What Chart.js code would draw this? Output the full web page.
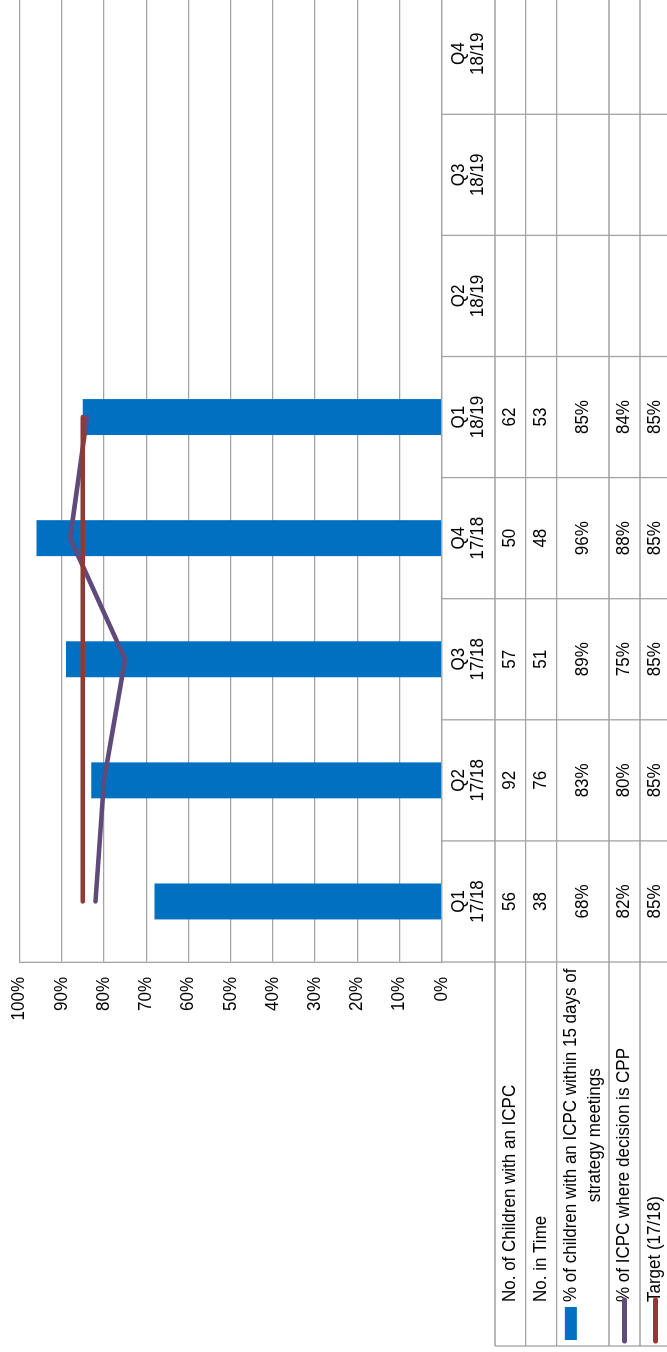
<!DOCTYPE html>
<html><head><meta charset="utf-8">
<script src="https://cdn.jsdelivr.net/npm/chart.js@4.4.1/dist/chart.umd.min.js"></script>
<style>
html,body{margin:0;padding:0;background:#fff;overflow:hidden;width:667px;height:1352px;}
#wrap{position:absolute;left:0;top:0;width:1370px;height:680px;transform-origin:0 0;transform:translate(0px,1352px) rotate(-90deg);}
canvas{display:block;}
</style></head><body>
<div id="wrap"><canvas id="c" width="1370" height="680"></canvas></div>
<script>
// ---- data ----
const categories = [['Q1','17/18'],['Q2','17/18'],['Q3','17/18'],['Q4','17/18'],['Q1','18/19'],['Q2','18/19'],['Q3','18/19'],['Q4','18/19']];
const noChildren = [56, 92, 57, 50, 62, null, null, null];
const noInTime   = [38, 76, 51, 48, 53, null, null, null];
const pctInTime  = [68, 83, 89, 96, 85, null, null, null];
const pctCPP     = [82, 80, 75, 88, 84, null, null, null];
const target     = [85, 85, 85, 85, 85, null, null, null];
const seriesNames = ['No. of Children with an ICPC', 'No. in Time', '% of children with an ICPC within 15 days of', 'strategy meetings', '% of ICPC where decision is CPP', 'Target (17/18)'];

// ---- style ----
const FONT = "'Liberation Sans', Arial, sans-serif";
const FS = 18, SX = 0.944;
const GRID = '#a3a3a3';
const BLUE = '#0070C0', PURPLE = '#604A7B', RED = '#953735';
const ROW_Y = [441.7, 495, 525.7, 556.7, 609, 640, 671];
const LABEL_LEFT = 6, LABEL_TEXT_X = 50;

const pctTxt = v => v == null ? '' : v + '%';
const numTxt = v => v == null ? '' : String(v);

function txt(ctx, s, x, y, align) {
  ctx.save();
  ctx.translate(x, y);
  ctx.scale(SX, 1);
  ctx.textAlign = align;
  ctx.fillText(s, 0, 0);
  ctx.restore();
}

const tablePlugin = {
  id: 'dataTable',
  afterDraw(chart) {
    const {ctx, chartArea: a, scales: {x, y}} = chart;
    const n = categories.length;
    const cw = (a.right - a.left) / n;
    ctx.save();
    ctx.strokeStyle = GRID; ctx.lineWidth = 1.3;
    ctx.beginPath();
    ctx.moveTo(a.left, ROW_Y[0]); ctx.lineTo(a.right + 30, ROW_Y[0]);
    for (let i = 1; i < ROW_Y.length; i++) { ctx.moveTo(LABEL_LEFT, ROW_Y[i]); ctx.lineTo(a.right + 30, ROW_Y[i]); }
    for (let j = 0; j <= n; j++) { const xx = a.left + j * cw; ctx.moveTo(xx, ROW_Y[0]); ctx.lineTo(xx, ROW_Y[ROW_Y.length - 1]); }
    ctx.moveTo(LABEL_LEFT, ROW_Y[1]); ctx.lineTo(LABEL_LEFT, ROW_Y[ROW_Y.length - 1]);
    ctx.stroke();

    ctx.fillStyle = '#000';
    ctx.font = FS + 'px ' + FONT;
    ctx.textBaseline = 'middle';
    // y tick labels
    y.ticks.forEach(t => txt(ctx, t.value + '%', a.left - 15, y.getPixelForValue(t.value), 'right'));
    const mid = i => (ROW_Y[i] + ROW_Y[i + 1]) / 2;
    for (let j = 0; j < n; j++) {
      const cx = x.getPixelForValue(j);
      txt(ctx, categories[j][0], cx, mid(0) - 9.5, 'center');
      txt(ctx, categories[j][1], cx, mid(0) + 9.5, 'center');
      txt(ctx, numTxt(noChildren[j]), cx, mid(1), 'center');
      txt(ctx, numTxt(noInTime[j]), cx, mid(2), 'center');
      txt(ctx, pctTxt(pctInTime[j]), cx, mid(3), 'center');
      txt(ctx, pctTxt(pctCPP[j]), cx, mid(4), 'center');
      txt(ctx, pctTxt(target[j]), cx, mid(5), 'center');
    }
    txt(ctx, seriesNames[0], LABEL_TEXT_X, mid(1), 'left');
    txt(ctx, seriesNames[1], LABEL_TEXT_X, mid(2), 'left');
    const w1 = ctx.measureText(seriesNames[2]).width * SX;
    txt(ctx, seriesNames[2], LABEL_TEXT_X, mid(3) - 12, 'left');
    txt(ctx, seriesNames[3], LABEL_TEXT_X + w1 / 2, mid(3) + 12, 'center');
    txt(ctx, seriesNames[4], LABEL_TEXT_X, mid(4), 'left');
    txt(ctx, seriesNames[5], LABEL_TEXT_X, mid(5), 'left');
    // legend keys
    ctx.fillStyle = BLUE;
    ctx.fillRect(12, mid(3) - 18, 33, 12);
    ctx.lineCap = 'round'; ctx.lineWidth = 5;
    ctx.strokeStyle = PURPLE; ctx.beginPath(); ctx.moveTo(11, mid(4)); ctx.lineTo(52, mid(4)); ctx.stroke();
    ctx.strokeStyle = RED; ctx.beginPath(); ctx.moveTo(11, mid(5)); ctx.lineTo(52, mid(5)); ctx.stroke();
    ctx.restore();
  }
};

new Chart(document.getElementById('c'), {
  data: {
    labels: categories.map(c => c.join(' ')),
    datasets: [
      {type: 'line', label: seriesNames[5], data: target, borderColor: RED, borderWidth: 4.5, pointRadius: 0, order: 1, borderCapStyle: 'round'},
      {type: 'line', label: seriesNames[4], data: pctCPP, borderColor: PURPLE, borderWidth: 4.5, pointRadius: 0, order: 2, borderCapStyle: 'round', borderJoinStyle: 'miter'},
      {type: 'bar', label: seriesNames[2] + ' ' + seriesNames[3], data: pctInTime, backgroundColor: BLUE, barPercentage: 0.297, categoryPercentage: 1, order: 3}
    ]
  },
  options: {
    responsive: false, animation: false, devicePixelRatio: 1,
    layout: {padding: {left: 0, top: 19.5, right: 1370 - 1358.8, bottom: 680 - 441.7}},
    plugins: {legend: {display: false}, tooltip: {enabled: false}},
    scales: {
      x: {display: false, offset: true},
      y: {
        min: 0, max: 100,
        ticks: {stepSize: 10, display: false},
        grid: {color: GRID, lineWidth: 1.3, drawTicks: false},
        border: {display: true, color: GRID, width: 1.3},
        afterFit: s => { s.width = 390; }
      }
    }
  },
  plugins: [tablePlugin]
});
</script>
</body></html>
